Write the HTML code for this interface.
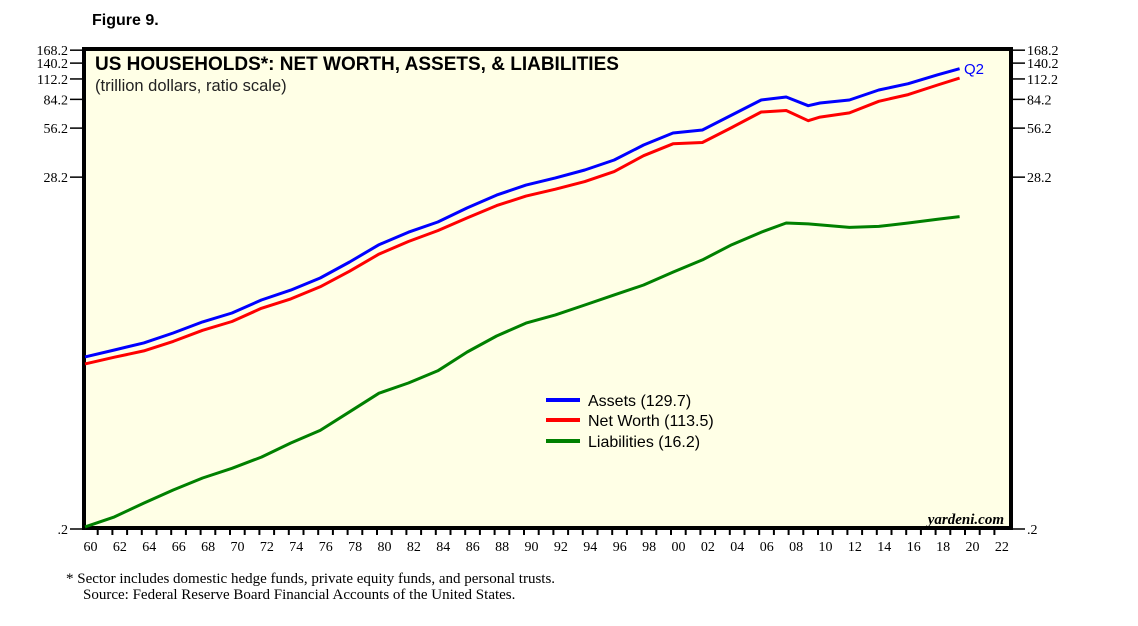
<!DOCTYPE html>
<html><head><meta charset="utf-8"><style>
body{margin:0;background:#fff;width:1138px;height:621px;overflow:hidden;font-family:"Liberation Sans",sans-serif}
</style></head><body>
<svg id="chart" width="1138" height="621" xmlns="http://www.w3.org/2000/svg">
<text x="92" y="25" font-size="16" font-weight="bold" font-family="Liberation Sans">Figure 9.</text>
<rect x="84" y="49" width="927" height="479" fill="#FFFFE6" stroke="#000" stroke-width="4"/>
<text x="95" y="70" font-size="19" font-weight="bold" font-family="Liberation Sans">US HOUSEHOLDS*: NET WORTH, ASSETS, &amp; LIABILITIES</text>
<text x="95" y="91" font-size="16.5" font-family="Liberation Sans" fill="#222">(trillion dollars, ratio scale)</text>
<g id="axes"></g>
<g id="series"></g>
<text x="964" y="74" font-size="15" fill="#0000ff" font-family="Liberation Sans">Q2</text>
<g>
<line x1="546" y1="400" x2="580" y2="400" stroke="#0000ff" stroke-width="4"/>
<text x="588" y="406" font-size="16" font-family="Liberation Sans">Assets (129.7)</text>
<line x1="546" y1="420" x2="580" y2="420" stroke="#ff0000" stroke-width="4"/>
<text x="588" y="426" font-size="16" font-family="Liberation Sans">Net Worth (113.5)</text>
<line x1="546" y1="441" x2="580" y2="441" stroke="#008000" stroke-width="4"/>
<text x="588" y="447" font-size="16" font-family="Liberation Sans">Liabilities (16.2)</text>
</g>
<text x="1004" y="524" font-size="15" font-style="italic" font-weight="bold" text-anchor="end" font-family="Liberation Serif">yardeni.com</text>
<text x="66" y="583" font-size="15" font-family="Liberation Serif">*   Sector includes domestic hedge funds, private equity funds, and personal trusts.</text>
<text x="83" y="599" font-size="15" font-family="Liberation Serif">Source: Federal Reserve Board Financial Accounts of the United States.</text>
</svg>
<script>
const years=[1960,1962,1964,1966,1968,1970,1972,1974,1976,1978,1980,1982,1984,1986,1988,1990,1992,1994,1996,1998,2000,2002,2004,2006,2007.7,2009.2,2010,2012,2014,2016,2018,2019.5];
const assets=[2.25,2.48,2.74,3.15,3.68,4.17,5.01,5.76,6.83,8.55,10.9,13.0,15.0,18.3,21.9,25.2,27.9,31.2,35.9,44.3,52.5,54.7,67.6,83.5,87,77,80,83.5,96,105,119,129.7];
const netWorth=[2.04,2.24,2.45,2.80,3.27,3.70,4.46,5.09,6.03,7.51,9.55,11.4,13.3,15.9,18.9,21.6,23.8,26.5,30.5,38.1,45.1,45.9,56.7,70.5,72,62.4,65.6,69.6,82,90,103,113.5];
const liabilities=[0.206,0.237,0.288,0.346,0.41,0.47,0.55,0.67,0.80,1.04,1.35,1.56,1.85,2.41,3.02,3.62,4.06,4.67,5.38,6.19,7.42,8.8,10.9,13.0,14.8,14.6,14.4,13.9,14.1,14.8,15.6,16.2];
const yTicks=[168.2,140.2,112.2,84.2,56.2,28.2,0.2];
const yTickLabels=["168.2","140.2","112.2","84.2","56.2","28.2",".2"];
const xLabels=["60","62","64","66","68","70","72","74","76","78","80","82","84","86","88","90","92","94","96","98","00","02","04","06","08","10","12","14","16","18","20","22"];
const NS="http://www.w3.org/2000/svg";
function X(yr){return 85+(yr-1960)*14.7;}
function Y(v){return 529-71.1*Math.log(v/0.2);}
const ax=document.getElementById('axes');
function mk(t,a,p){const e=document.createElementNS(NS,t);for(const k in a)e.setAttribute(k,a[k]);p.appendChild(e);return e;}
yTicks.forEach((v,i)=>{
  const y=Y(v);
  const l=mk('line',{x1:70,x2:84,y1:y,y2:y,stroke:'#000','stroke-width':1.5},ax);
  
  
  const r=mk('line',{x1:1011,x2:1025,y1:y,y2:y,stroke:'#000','stroke-width':1.5},ax);
  
  
  const t=mk('text',{x:68,y:y+5,'font-size':14,'text-anchor':'end','font-family':'Liberation Serif'},ax);
  t.textContent=yTickLabels[i];
  
  
  const t2=mk('text',{x:1027,y:y+5,'font-size':14,'font-family':'Liberation Serif'},ax);
  t2.textContent=yTickLabels[i];
  
  
});
for(let k=1;k<63;k++){
  const x=83+k*14.7;
  const l=mk('line',{x1:x,x2:x,y1:528,y2:535,stroke:'#000','stroke-width':2},ax);
  
  
}
xLabels.forEach((s,i)=>{
  const t=mk('text',{x:83+i*29.4+7.5,y:551,'font-size':14,'text-anchor':'middle','font-family':'Liberation Serif'},ax);
  t.textContent=s;
  
  
});
const sg=document.getElementById('series');
function line(vals,col,name){
  const d=vals.map((v,i)=>(i?'L':'M')+X(years[i]).toFixed(1)+','+Y(v).toFixed(1)).join(' ');
  const p=mk('path',{d:d,fill:'none',stroke:col,'stroke-width':3,'stroke-linejoin':'round'},sg);
  
  
}
line(liabilities,'#008000','liabilities-line');
line(netWorth,'#ff0000','net-worth-line');
line(assets,'#0000ff','assets-line');
</script>
</body></html>
